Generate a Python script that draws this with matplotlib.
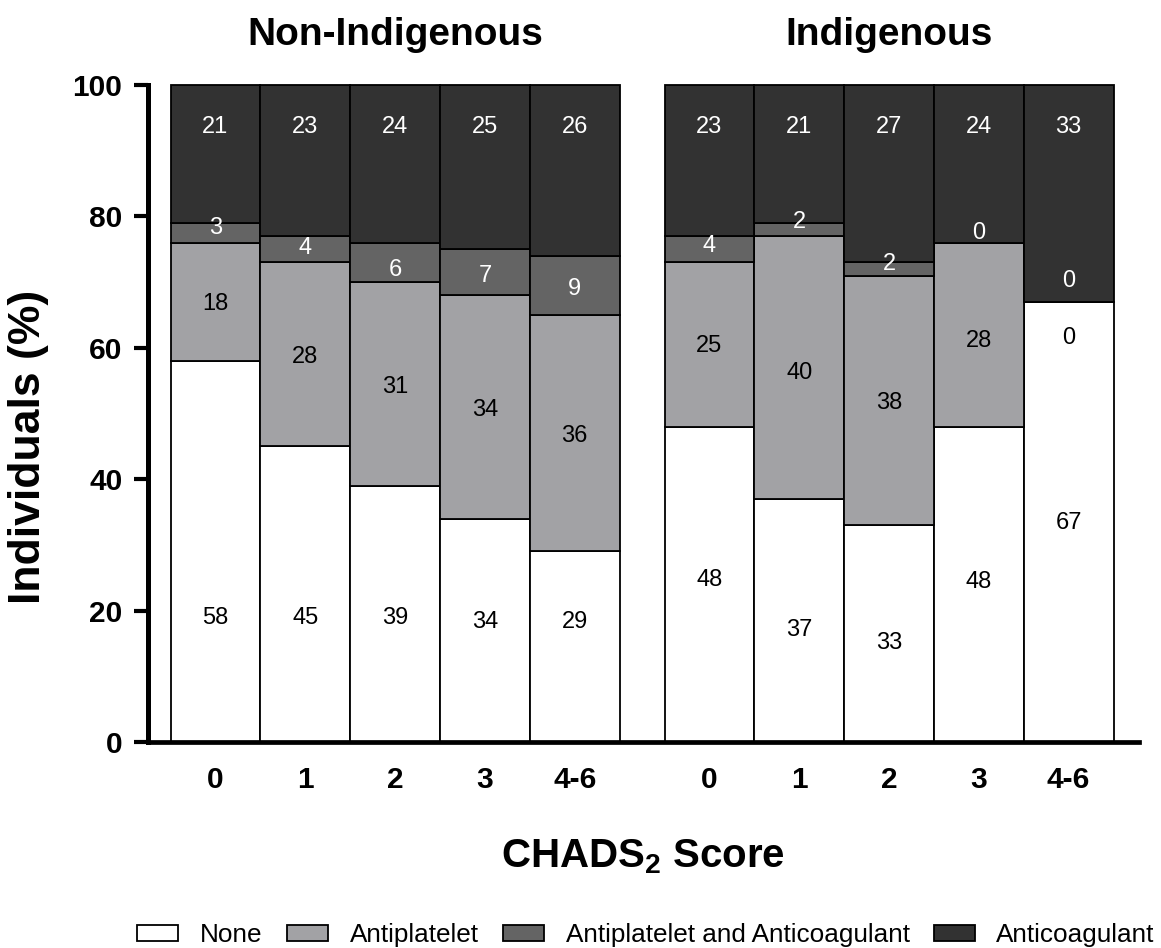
import matplotlib
matplotlib.use("Agg")
import matplotlib.pyplot as plt
from matplotlib.patches import Patch
import matplotlib.transforms as mtransforms
import numpy as np

plt.rcParams['font.family'] = ['Liberation Sans', 'DejaVu Sans']
plt.rcParams['mathtext.fontset'] = 'custom'
plt.rcParams['mathtext.rm'] = 'Liberation Sans'
plt.rcParams['mathtext.bf'] = 'Liberation Sans:bold'

# ---- data ----
categories = ["0", "1", "2", "3", "4-6"]
groups = ["Non-Indigenous", "Indigenous"]
series = ["None", "Antiplatelet", "Antiplatelet and Anticoagulant", "Anticoagulant"]

ni_none = [58, 45, 39, 34, 29]
ni_antiplatelet = [18, 28, 31, 34, 36]
ni_both = [3, 4, 6, 7, 9]
ni_anticoag = [21, 23, 24, 25, 26]

in_none = [48, 37, 33, 48, 67]
in_antiplatelet = [25, 40, 38, 28, 0]
in_both = [4, 2, 2, 0, 0]
in_anticoag = [23, 21, 27, 24, 33]

# label heights (layout, as printed in the reference)
ni_lab_none = [19.3, 19.3, 19.3, 18.6, 18.6]
ni_lab_anti = [67, 59, 54.5, 51, 47]
ni_lab_both = [78.7, 75.6, 72.3, 71.4, 69.3]
in_lab_none = [25, 17.5, 15.5, 24.7, 33.8]
in_lab_anti = [60.7, 56.5, 52, 61.5, 61.9]
in_lab_both = [75.9, 79.5, 73.2, 77.8, 70.5]
lab_anticoag = 94

colors = ["#ffffff", "#a2a2a5", "#646464", "#323232"]
text_colors = ["black", "black", "white", "white"]

fig = plt.figure(figsize=(11.61, 9.48), dpi=100)
ax = fig.add_axes([147.5 / 1161, 1 - 742 / 948, (1139 - 147.5) / 1161, (742 - 85) / 948])

group_x = [np.arange(5), np.arange(5) + 5.5]
group_data = [
    [ni_none, ni_antiplatelet, ni_both, ni_anticoag],
    [in_none, in_antiplatelet, in_both, in_anticoag],
]
group_labs = [
    [ni_lab_none, ni_lab_anti, ni_lab_both],
    [in_lab_none, in_lab_anti, in_lab_both],
]

for gx, gdata, glabs in zip(group_x, group_data, group_labs):
    bottom = np.zeros(5)
    for si, vals in enumerate(gdata):
        ax.bar(gx, vals, width=1.0, bottom=bottom, color=colors[si],
               edgecolor="black", linewidth=1.3, clip_on=False, zorder=2)
        bottom = bottom + np.array(vals)
        for i, v in enumerate(vals):
            y = glabs[si][i] if si < 3 else lab_anticoag
            ax.text(gx[i], y - 0.4, str(v), ha="center", va="center",
                    fontsize=17, color=text_colors[si], zorder=3)

ax.set_xlim(-0.757, 10.283)
ax.set_ylim(0, 100)
ax.set_yticks([0, 20, 40, 60, 80, 100])
ax.set_xticks(list(group_x[0]) + list(group_x[1]))
ax.set_xticklabels(categories + categories)

for lab in ax.get_xticklabels() + ax.get_yticklabels():
    lab.set_fontweight("bold")
    lab.set_fontsize(21.5)

ax.tick_params(axis="y", length=10, width=3, pad=8)
ax.tick_params(axis="x", length=0, pad=17)

ax.spines["top"].set_visible(False)
ax.spines["right"].set_visible(False)
ax.spines["left"].set_linewidth(3.6)
ax.spines["bottom"].set_linewidth(3.4)
ax.spines["left"].set_zorder(4)
ax.spines["bottom"].set_zorder(4)

trans = mtransforms.blended_transform_factory(ax.transData, fig.transFigure)
ax.text(2, 1 - 45 / 948, groups[0], transform=trans, ha="center", va="baseline",
        fontsize=28, fontweight="bold")
ax.text(7.5, 1 - 45 / 948, groups[1], transform=trans, ha="center", va="baseline",
        fontsize=28, fontweight="bold")

fig.text(29 / 1161, 1 - 447 / 948, "Individuals (%)", rotation=90,
         ha="center", va="center", fontsize=32, fontweight="bold")
fig.text(643 / 1161, 1 - 867 / 948, r"CHADS$_\mathbf{2}$ Score", ha="center",
         va="baseline", fontsize=29, fontweight="bold")

handles = [Patch(facecolor=c, edgecolor="black", linewidth=1.3) for c in colors]
fig.legend(handles, series, loc="center", bbox_to_anchor=(646 / 1161, 1 - 935 / 948),
           ncol=4, frameon=False, fontsize=18.8, handlelength=1.57, handleheight=0.58,
           handletextpad=0.84, columnspacing=0.92, borderaxespad=0, borderpad=0)

fig.savefig("out.png", dpi=100)
